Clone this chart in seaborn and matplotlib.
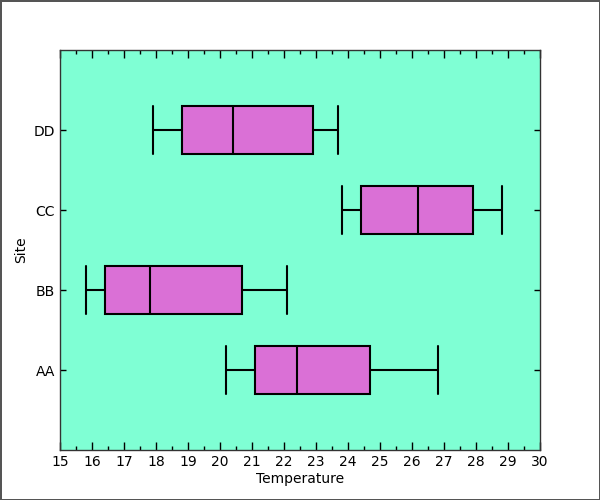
import numpy as np
import matplotlib
matplotlib.use('Agg')
import matplotlib.pyplot as plt
from matplotlib.ticker import MultipleLocator
import seaborn as sns
import pandas as pd

# five-number summaries: min, q1, median, q3, max
sites = ["AA", "BB", "CC", "DD"]
aa_vals = [20.2, 21.1, 22.4, 24.7, 26.8]
bb_vals = [15.8, 16.4, 17.8, 20.7, 22.1]
cc_vals = [23.8, 24.4, 26.2, 27.9, 28.8]
dd_vals = [17.9, 18.8, 20.4, 22.9, 23.7]

df = pd.DataFrame({
    "Site": np.repeat(sites, 5),
    "Temperature": aa_vals + bb_vals + cc_vals + dd_vals,
})

sns.set_style("ticks")
plt.rcParams['font.family'] = ['DejaVu Sans']
plt.rcParams['text.color'] = 'black'
plt.rcParams['axes.labelcolor'] = 'black'
plt.rcParams['xtick.color'] = 'black'
plt.rcParams['ytick.color'] = 'black'

fig, ax = plt.subplots(figsize=(6, 5), dpi=100)
fig.subplots_adjust(left=0.1, right=0.9, bottom=0.1, top=0.9)
fig.patch.set_edgecolor('#555555')
fig.patch.set_linewidth(2)

sns.boxplot(data=df, x="Temperature", y="Site", order=["DD", "CC", "BB", "AA"],
            orient="h", color="orchid", saturation=1, width=0.6,
            linecolor="black", linewidth=1.5, whis=(0, 100),
            capwidths=0.6, ax=ax)

ax.set_facecolor("aquamarine")
ax.set_xlim(15, 30)
ax.set_ylim(4, -1)
ax.xaxis.set_major_locator(MultipleLocator(1))
ax.xaxis.set_minor_locator(MultipleLocator(0.5))
ax.tick_params(axis='x', which='major', direction='in', top=True, length=6,
               labelsize=10, width=1, colors='black')
ax.tick_params(axis='x', which='minor', direction='in', top=True, length=3,
               width=1, colors='black')
ax.tick_params(axis='y', direction='in', right=True, length=4, labelsize=10,
               width=1, colors='black')
for s in ax.spines.values():
    s.set_visible(True)
    s.set_color('#333333')
    s.set_linewidth(1)
ax.set_xlabel("Temperature", fontsize=10, labelpad=2)
ax.set_ylabel("Site", fontsize=10)

plt.savefig('out.png', dpi=100, edgecolor=fig.get_edgecolor())
